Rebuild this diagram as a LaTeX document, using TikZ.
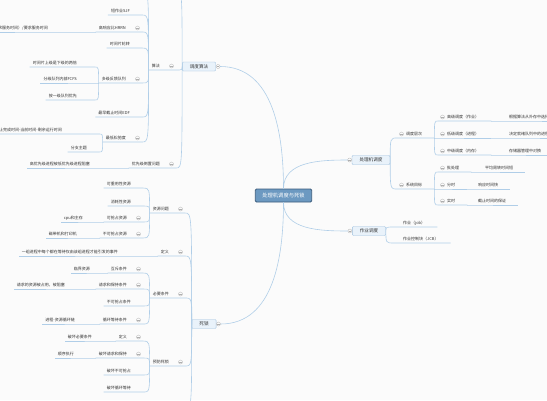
\documentclass[tikz,border=0pt]{standalone}
\usepackage{fontspec}
\newfontfamily\cjk{Noto Sans CJK SC}
\usetikzlibrary{positioning}
\definecolor{linkblue}{RGB}{176,206,232}
\definecolor{topicfill}{RGB}{233,242,250}
\definecolor{topicline}{RGB}{158,192,222}
\definecolor{rootfill}{RGB}{108,153,193}
\definecolor{rootline}{RGB}{60,92,124}
\definecolor{signgray}{RGB}{175,175,175}
\definecolor{textgray}{RGB}{50,50,50}
\definecolor{paper}{RGB}{251,251,251}
\tikzset{
  link/.style={draw=linkblue, line width=0.6pt},
  leaf/.style={font=\cjk\fontsize{4}{5}\selectfont, text=textgray, inner ysep=1.5pt, inner xsep=3pt},
  lleaf/.style={leaf, anchor=south east, execute at end node={\hspace{#1}}},
  lleaf/.default=9pt,
  lfold/.style={lleaf=13pt},
  rleaf/.style={leaf, anchor=south west, execute at begin node={\hspace{6pt}}, execute at end node={\hspace{#1}}},
  rleaf/.default=9pt,
  topic/.style={draw=topicline, fill=topicfill, rounded corners=1pt, font=\cjk\fontsize{4.6}{5}\selectfont, text=textgray, minimum height=9pt, inner xsep=7.5pt, inner ysep=0pt},
  root/.style={draw=rootline, line width=0.8pt, fill=rootfill, rounded corners=1.2pt, font=\cjk\fontsize{5.3}{6}\selectfont, text=white, minimum height=13pt, inner xsep=7pt},
  sign/.style={circle, draw=signgray, fill=paper, line width=0.3pt, minimum size=4pt, inner sep=0pt,
    path picture={\draw[signgray, line width=0.3pt] ([xshift=-1.2pt]path picture bounding box.center) -- ([xshift=1.2pt]path picture bounding box.center);}}
}
\begin{document}
\begin{tikzpicture}[x=1pt, y=-1pt]
\useasboundingbox (0,0) rectangle (547,400);
\fill[paper] (0,0) rectangle (547,400);
\clip (0,0) rectangle (547,400);

\node[root] (root) at (283.5,195.5) {处理机调度与死锁};
\node[topic] (alg) at (199,66.5) {调度算法};
\node[topic] (cpu) at (371,160) {处理机调度};
\node[topic] (job) at (369,231) {作业调度};
\node[topic] (dead) at (204,324) {死锁};
\node[sign, right=0pt of alg] (algs) {};
\node[sign, right=0pt of dead] (deads) {};
\node[sign, left=0pt of cpu] (cpus) {};
\node[sign, left=0pt of job] (jobs) {};
\draw[link] (root) to[out=90, in=0] (algs);
\draw[link] (root) to[out=-90, in=0] (deads);
\draw[link] (root) to[out=90, in=180] (cpus);
\draw[link] (root) to[out=-90, in=180] (jobs);

% 调度算法
\coordinate (algup) at (177,-8);
\node[lfold] (suanfa) at (176,70) {算法};
\node[lfold] (invert) at (176,168) {优先级倒置问题};
\node[lleaf] (block) at (102,168) {高优先级进程被低优先级进程阻塞};
\draw[link] (alg.west) .. controls (alg.west |- algup) .. (algup);
\foreach \c in {suanfa, invert}
  \draw[link] (alg.west) .. controls (alg.west |- \c.south east) .. (\c.south east) -- (\c.south west);
\draw[link] (invert.south west) -- (block.south east) -- (block.south west);

% 算法
\coordinate (sfup) at (143,-8);
\foreach \nm/\yy/\txt in {sjf/15/短作业SJF, rr/48/时间片轮转, edf/117/最早截止时间EDF}
  \node[lleaf] (\nm) at (142,\yy) {\txt};
\foreach \nm/\yy/\txt in {hrrn/32/高响应比HRRN, mlfq/83/多级反馈队列, llf/142/最低松弛度}
  \node[lfold] (\nm) at (142,\yy) {\txt};
\draw[link] (suanfa.south west) .. controls (suanfa.south west |- sfup) .. (sfup);
\foreach \c in {sjf, hrrn, rr, mlfq, edf, llf}
  \draw[link] (suanfa.south west) .. controls (suanfa.south west |- \c.south east) .. (\c.south east) -- (\c.south west);
\node[lleaf] (hrrnf) at (60,32) {（等待时间+要求服务时间）/要求服务时间};
\draw[link] (hrrn.south west) -- (hrrnf.south east) -- (hrrnf.south west);
\foreach \nm/\yy/\txt in {twice/67/时间片上级是下级的两倍, fcfs/83/分级队列内部FCFS, first/100/按一级队列优先}
  \node[lleaf=15pt] (\nm) at (95,\yy) {\txt};
\foreach \c in {twice, fcfs, first}
  \draw[link] (mlfq.south west) .. controls (mlfq.south west |- \c.south east) .. (\c.south east) -- (\c.south west);
\node[lleaf=34pt] (slack) at (99,134) {截止完成时间-当前时间-剩余运行时间};
\node[lleaf] (branch) at (99,152) {分支主题};
\foreach \c in {slack, branch}
  \draw[link] (llf.south west) .. controls (llf.south west |- \c.south east) .. (\c.south east) -- (\c.south west);

% 死锁
\coordinate (deaddown) at (184,410);
\foreach \nm/\yy/\txt in {res/213/资源问题, def/256/定义, cond/298/必要条件, prev/366/预防死锁}
  \node[lfold] (\nm) at (185,\yy) {\txt};
\draw[link] (dead.west) .. controls (dead.west |- deaddown) .. (deaddown);
\foreach \c in {res, def, cond, prev}
  \draw[link] (dead.west) .. controls (dead.west |- \c.south east) .. (\c.south east) -- (\c.south west);

% 资源问题
\foreach \nm/\yy/\txt in {reuse/188/可重用性资源, consume/206/消耗性资源}
  \node[lleaf] (\nm) at (143,\yy) {\txt};
\foreach \nm/\yy/\txt in {pre/222/可抢占资源, nopre/238/不可抢占资源}
  \node[lfold] (\nm) at (143,\yy) {\txt};
\foreach \c in {reuse, consume, pre, nopre}
  \draw[link] (res.south west) .. controls (res.south west |- \c.south east) .. (\c.south east) -- (\c.south west);
\node[lleaf] (cpumem) at (95,222) {cpu和主存};
\node[lleaf] (tape) at (89,238) {磁带机和打印机};
\draw[link] (pre.south west) -- (cpumem.south east) -- (cpumem.south west);
\draw[link] (nopre.south west) -- (tape.south east) -- (tape.south west);

% 定义
\node[lleaf] (defn) at (130,256) {一组进程中每个都在等待仅由该组进程才能引发的事件};
\draw[link] (def.south west) -- (defn.south east) -- (defn.south west);

% 必要条件
\foreach \nm/\yy/\txt in {mutex/273/互斥条件, hold/289/请求和保持条件, circ/324/循环等待条件}
  \node[lfold] (\nm) at (143,\yy) {\txt};
\node[lleaf] (nopree) at (143,306) {不可抢占条件};
\foreach \c in {mutex, hold, nopree, circ}
  \draw[link] (cond.south west) .. controls (cond.south west |- \c.south east) .. (\c.south east) -- (\c.south west);
\node[lleaf] (crit) at (102,273) {临界资源};
\node[lleaf] (wait) at (77,289) {请求的资源被占用，被阻塞};
\node[lleaf] (loop) at (87,324) {进程-资源循环链};
\draw[link] (mutex.south west) -- (crit.south east) -- (crit.south west);
\draw[link] (hold.south west) -- (wait.south east) -- (wait.south west);
\draw[link] (circ.south west) -- (loop.south east) -- (loop.south west);

% 预防死锁
\foreach \nm/\yy/\txt in {pdef/341/定义, phold/358/破坏请求和保持}
  \node[lfold] (\nm) at (143,\yy) {\txt};
\foreach \nm/\yy/\txt in {pnopre/375/破坏不可抢占, pcirc/392/破坏循环等待}
  \node[lleaf] (\nm) at (143,\yy) {\txt};
\foreach \c in {pdef, phold, pnopre, pcirc}
  \draw[link] (prev.south west) .. controls (prev.south west |- \c.south east) .. (\c.south east) -- (\c.south west);
\node[lleaf] (broke) at (104,341) {破坏必要条件};
\node[lleaf] (seq) at (86,358) {顺序执行};
\draw[link] (pdef.south west) -- (broke.south east) -- (broke.south west);
\draw[link] (phold.south west) -- (seq.south east) -- (seq.south west);

% 处理机调度
\node[rleaf] (levels) at (397,138) {调度层次};
\node[rleaf] (goals) at (397,189) {系统目标};
\foreach \c in {levels, goals}
  \draw[link] (cpu.east) .. controls (cpu.east |- \c.south west) .. (\c.south west) -- (\c.south east);
\foreach \nm/\yy/\txt in {high/121/高级调度（作业）, low/138/低级调度（进程）, mid/155/中级调度（内存）}
  \node[rleaf] (\nm) at (438,\yy) {\txt};
\foreach \c in {high, low, mid}
  \draw[link] (levels.south east) .. controls (levels.south east |- \c.south west) .. (\c.south west) -- (\c.south east);
\foreach \nm/\yy/\txt in {hight/121/根据算法从外存中选择作业调入内存, lowt/138/决定就绪队列中的进程获得处理机, midt/155/存储器管理中对换}
  \node[rleaf] (\nm) at (500,\yy) {\txt};
\draw[link] (high.south east) -- (hight.south west) -- (hight.south east);
\draw[link] (low.south east) -- (lowt.south west) -- (lowt.south east);
\draw[link] (mid.south east) -- (midt.south west) -- (midt.south east);
\foreach \nm/\yy/\txt in {batch/172/批处理, share/189/分时, real/205/实时}
  \node[rleaf] (\nm) at (438,\yy) {\txt};
\foreach \c in {batch, share, real}
  \draw[link] (goals.south east) .. controls (goals.south east |- \c.south west) .. (\c.south west) -- (\c.south east);
\node[rleaf] (batcht) at (476,172) {平均周转时间短};
\node[rleaf] (sharet) at (469,189) {响应时间快};
\node[rleaf] (realt) at (469,205) {截止时间的保证};
\draw[link] (batch.south east) -- (batcht.south west) -- (batcht.south east);
\draw[link] (share.south east) -- (sharet.south west) -- (sharet.south east);
\draw[link] (real.south east) -- (realt.south west) -- (realt.south east);

% 作业调度
\node[rleaf] (jb) at (394,227) {作业（job）};
\node[rleaf] (jcb) at (394,243) {作业控制块（JCB）};
\foreach \c in {jb, jcb}
  \draw[link] (job.east) .. controls (job.east |- \c.south west) .. (\c.south west) -- (\c.south east);

% collapse signs
\foreach \c in {suanfa, invert, hrrn, mlfq, llf, res, def, cond, prev, pre, nopre, mutex, hold, circ, pdef, phold}
  \node[sign] at ([xshift=-4.5pt, yshift=4pt]\c.south east) {};
\foreach \c in {levels, goals, high, low, mid, batch, share, real}
  \node[sign] at ([xshift=4.5pt, yshift=4pt]\c.south west) {};
\end{tikzpicture}
\end{document}
